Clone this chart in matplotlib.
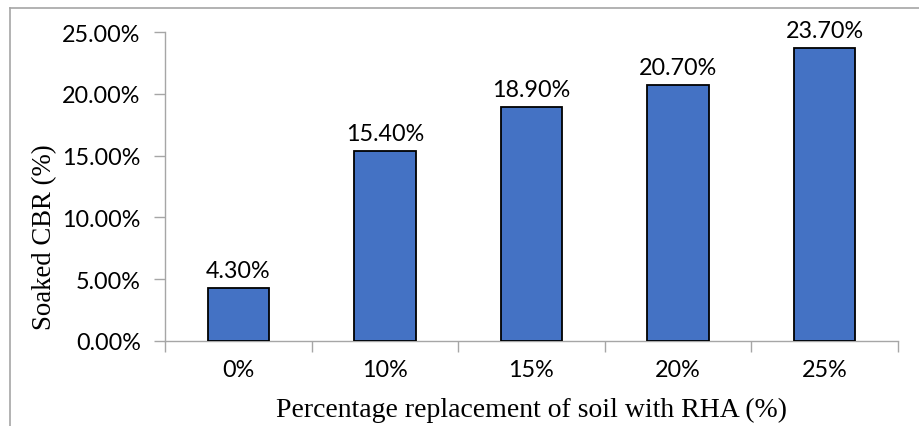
import matplotlib
matplotlib.use("Agg")
import matplotlib.pyplot as plt
from matplotlib.ticker import FuncFormatter, FixedLocator
from matplotlib.lines import Line2D

categories = ["0%", "10%", "15%", "20%", "25%"]
cbr = [0.043, 0.154, 0.189, 0.207, 0.237]
y_ticks = [0.0, 0.05, 0.10, 0.15, 0.20, 0.25]

W, H = 920, 427
fig = plt.figure(figsize=(W / 100, H / 100), dpi=100)
ax = fig.add_axes([165 / W, 1 - 342 / H, (898 - 165) / W, (342 - 33) / H])

tick_font = "Lato"
serif = "Liberation Serif"
spine_col = "#A6A6A6"
fs = 16.8

x = list(range(len(categories)))
ax.bar(x, cbr, width=0.42, color="#4472C4", edgecolor="black", linewidth=1.3, zorder=3)

for xi, v in zip(x, cbr):
    ax.annotate(f"{v*100:.2f}%", (xi, v), xytext=(0, 5), textcoords="offset points",
                ha="center", va="bottom", fontsize=fs, family=tick_font, color="black")

ax.set_xlim(-0.5, len(categories) - 0.5)
ax.set_ylim(0, 0.25)
ax.set_yticks(y_ticks)
ax.yaxis.set_major_formatter(FuncFormatter(lambda v, p: f"{v*100:.2f}%"))
ax.set_xticks(x)
ax.set_xticklabels(categories)
ax.xaxis.set_minor_locator(FixedLocator([i - 0.5 for i in range(len(categories) + 1)]))
ax.tick_params(axis="x", which="major", length=0, pad=13)
ax.tick_params(axis="x", which="minor", length=8, color=spine_col, width=1)
ax.tick_params(axis="y", length=8, color=spine_col, width=1, pad=9.5)
for lbl in ax.get_xticklabels() + ax.get_yticklabels():
    lbl.set_fontfamily(tick_font)
    lbl.set_fontsize(fs)

for s in ["top", "right"]:
    ax.spines[s].set_visible(False)
for s in ["left", "bottom"]:
    ax.spines[s].set_color(spine_col)
    ax.spines[s].set_linewidth(1)

ax.set_xlabel("Percentage replacement of soil with RHA (%)", family=serif, fontsize=20, labelpad=12)
ax.set_ylabel("Soaked CBR (%)", family=serif, fontsize=19.3)
ax.yaxis.set_label_coords((57 - 165) / 733, (342 - 237) / 309)

# outer border (top and left only)
fig.add_artist(Line2D([10 / W, 10 / W], [0, 1 - 9 / H], color=spine_col, lw=1.2))
fig.add_artist(Line2D([10 / W, 1], [1 - 9 / H, 1 - 9 / H], color=spine_col, lw=1.2))

fig.savefig("out.png", dpi=100)
